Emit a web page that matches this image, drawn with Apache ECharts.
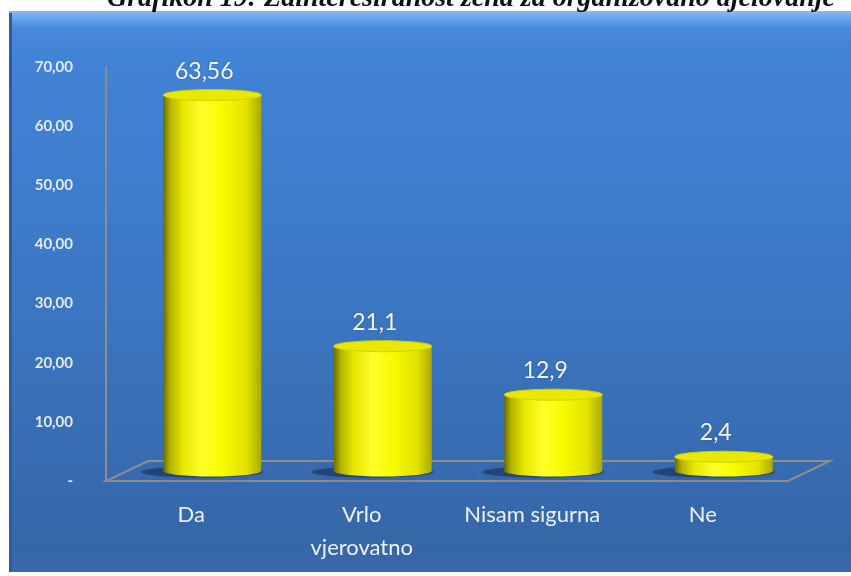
<!DOCTYPE html>
<html>
<head>
<meta charset="utf-8">
<script src="https://cdn.jsdelivr.net/npm/echarts@6/dist/echarts.min.js"></script>
<style>
  html, body { margin: 0; padding: 0; background: #fff; }
  #main { width: 851px; height: 576px; }
</style>
</head>
<body>
<div id="main"></div>
<script>
// data
var categories = ['Da', 'Vrlo\nvjerovatno', 'Nisam sigurna', 'Ne'];
var values = [63.56, 21.1, 12.9, 2.4];
var yMin = 0, yMax = 70, yStep = 10;
var titleText = 'Grafikon 19: Zainteresiranost žena za organizovano djelovanje';

// layout
var W = 851, H = 576;
var G = { left: 106, right: 63, top: 67, bottom: 95 };
var DX = 21, DY = -10;     // cylinders stand half way into the floor
var DEPTH_X = 42, DEPTH_Y = -20;

var chart = echarts.init(document.getElementById('main'));

function fmt(v) { return String(v).replace('.', ','); }

function renderCylinder(params, api) {
    var i = api.value(0), v = api.value(1);
    var top = api.coord([i, v]);
    var base = api.coord([i, 0]);
    var w = api.size([1, 0])[0] * 0.575;
    var cx = top[0] + DX, ty = top[1] + DY, by = base[1] + DY;
    var rx = w / 2, ry = 5.5;
    var body = new echarts.graphic.LinearGradient(0, 0, 1, 0, [
        { offset: 0, color: '#6b6b00' },
        { offset: 0.07, color: '#b3b300' },
        { offset: 0.2, color: '#e6e600' },
        { offset: 0.4, color: '#ffff2a' },
        { offset: 0.6, color: '#fafa00' },
        { offset: 0.85, color: '#e2e200' },
        { offset: 1, color: '#a9a900' }
    ]);
    return {
        type: 'group',
        children: [
            { type: 'ellipse', shape: { cx: cx - 10, cy: by + 1, rx: rx + 12, ry: ry },
              style: { fill: 'rgba(18,34,66,0.45)', shadowBlur: 6, shadowColor: 'rgba(18,34,66,0.5)' } },
            { type: 'ellipse', shape: { cx: cx, cy: by, rx: rx, ry: ry }, style: { fill: body } },
            { type: 'rect', shape: { x: cx - rx, y: ty, width: w, height: by - ty }, style: { fill: body } },
            { type: 'ellipse', shape: { cx: cx, cy: ty, rx: rx, ry: ry },
              style: { fill: '#e8e800', stroke: '#d2d200', lineWidth: 1 } },
            { type: 'text', style: {
                text: fmt(v), x: cx - 8, y: ty - 24, align: 'center', verticalAlign: 'middle',
                fill: '#f3f6fb', fontSize: 23, fontFamily: 'Lato',
                textShadowColor: 'rgba(0,0,0,0.25)', textShadowBlur: 2 } }
        ]
    };
}

var x0 = G.left, x1 = W - G.right, y0 = H - G.bottom;

var option = {
    backgroundColor: '#ffffff',
    animation: false,
    grid: { left: G.left, right: G.right, top: G.top, bottom: G.bottom },
    graphic: [
        { type: 'rect', z: -10, shape: { x: 9, y: 11, width: 850, height: 561 },
          style: { fill: new echarts.graphic.LinearGradient(0, 0, 0, 1, [
              { offset: 0, color: '#8cbaf0' },
              { offset: 0.012, color: '#6aa6ec' },
              { offset: 0.03, color: '#4a8ade' },
              { offset: 0.06, color: '#4284d7' },
              { offset: 0.5, color: '#3c77c4' },
              { offset: 0.96, color: '#3566a7' },
              { offset: 1, color: '#3a6aab' }
          ]) } },
        { type: 'rect', z: -9, shape: { x: 9, y: 13, width: 3, height: 559 }, style: { fill: '#2f5d98' } },
        { type: 'text', z: 5, style: {
            text: titleText, x: 471, y: 13, align: 'center', verticalAlign: 'bottom',
            fill: '#111', fontSize: 28, fontWeight: 'bold', fontStyle: 'italic',
            fontFamily: 'Liberation Serif' } },
        { type: 'polygon', z: -1, shape: { points: [
              [x0, y0], [x1, y0], [x1 + DEPTH_X, y0 + DEPTH_Y], [x0 + DEPTH_X, y0 + DEPTH_Y], [x0, y0]
          ] },
          style: { fill: 'none', stroke: '#8d8d8d', lineWidth: 2 } }
    ],
    xAxis: {
        type: 'category',
        data: categories,
        axisLine: { show: false },
        axisTick: { show: false },
        axisLabel: { interval: 0, hideOverlap: false, color: '#eef2f8', fontSize: 22,
                     fontFamily: 'Lato', lineHeight: 33, margin: 17 }
    },
    yAxis: {
        type: 'value',
        min: yMin, max: yMax, interval: yStep,
        axisLine: { show: true, lineStyle: { color: '#8d8d8d', width: 2 } },
        axisTick: { show: false },
        splitLine: { show: false },
        axisLabel: {
            color: '#e3eaf5', fontSize: 15, fontWeight: 'bold', fontFamily: 'Lato', margin: 33,
            formatter: function (v) { return v === 0 ? '-' : v.toFixed(2).replace('.', ','); }
        }
    },
    series: [{
        type: 'custom',
        renderItem: renderCylinder,
        data: values.map(function (v, i) { return [i, v]; }),
        encode: { x: 0, y: 1 },
        clip: false,
        z: 3
    }]
};

chart.setOption(option);
</script>
</body>
</html>
